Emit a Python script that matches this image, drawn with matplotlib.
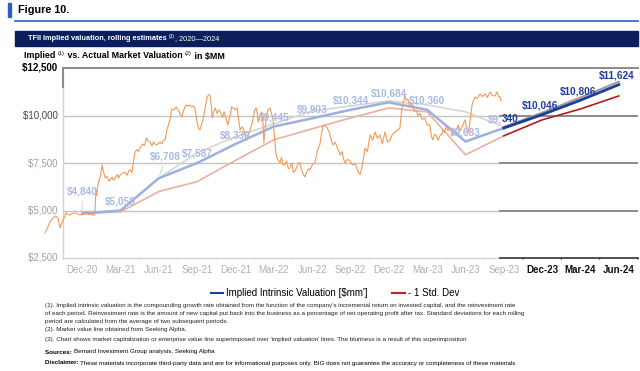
import matplotlib
matplotlib.use("Agg")
import matplotlib.pyplot as plt
from matplotlib.lines import Line2D
from matplotlib.patches import Rectangle

plt.rcParams['font.family'] = ['Liberation Sans', 'DejaVu Sans']

quarters = ['Dec-20', 'Mar-21', 'Jun-21', 'Sep-21', 'Dec-21', 'Mar-22', 'Jun-22',
            'Sep-22', 'Dec-22', 'Mar-23', 'Jun-23', 'Sep-23', 'Dec-23', 'Mar-24', 'Jun-24']

# historical (faded) rolling estimates, Dec-20 .. Sep-23
hist_implied = [4840, 5000, 6700, 7500, 8500, 9420, 9850, 10300, 10690, 10300, 8630, 9340]
hist_minus = [4840, 4930, 6000, 6520, 7640, 8720, 9300, 9870, 10400, 10190, 7930, 8930]
hist_plus = [4840, 5000, 6700, 8040, 8880, 9560, 10240, 10500, 10770, 10560, 10190, 9400]
hist_labels = ['$4,840', '$5,058', '$6,708', '$7,587', '$8,339', '$9,445', '$9,903',
               '$10,344', '$10,684', '$10,360', '$9,683']

# forward estimates, Sep-23 .. Jun-24
fwd_implied = [9340, 10046, 10806, 11624]
fwd_minus = [8930, 9770, 10346, 11030]
fwd_plus = [9400, 10150, 10950, 11780]
fwd_labels = ['$10,046', '$10,806', '$11,624']

# market value line (superimposed), position in quarters
mkt_q = [-0.97, -0.90, -0.84, -0.78, -0.71, -0.66, -0.63, -0.58, -0.54, -0.50, -0.45, -0.42,
         -0.36, -0.32, -0.25, -0.16, -0.10, -0.06, 0.0, 0.07, 0.12, 0.16, 0.20, 0.28, 0.33,
         0.35, 0.36, 0.38, 0.41, 0.44, 0.47, 0.50, 0.52, 0.56, 0.60, 0.65, 0.70, 0.73, 0.78,
         0.82, 0.86, 0.92, 0.95, 0.99, 1.05, 1.12, 1.17, 1.22, 1.25, 1.30, 1.33, 1.38, 1.43,
         1.47, 1.51, 1.58, 1.63, 1.67, 1.72, 1.77, 1.82, 1.86, 1.90, 1.95, 2.03, 2.08, 2.12,
         2.16, 2.21, 2.25, 2.29, 2.34, 2.40, 2.45, 2.50, 2.55, 2.60, 2.65, 2.71, 2.76, 2.81,
         2.86, 2.90, 2.94, 2.98, 3.02, 3.07, 3.11, 3.15, 3.20, 3.26, 3.30, 3.34, 3.37, 3.39,
         3.43, 3.47, 3.52, 3.56, 3.60, 3.66, 3.70, 3.73, 3.77, 3.80, 3.86, 3.90, 3.94, 4.00,
         4.04, 4.08, 4.12, 4.17, 4.22, 4.26, 4.30, 4.34, 4.38, 4.42, 4.46, 4.50, 4.54, 4.57,
         4.59, 4.64, 4.69, 4.72, 4.74, 4.77, 4.80, 4.85, 4.90, 4.94, 4.98, 5.02, 5.06, 5.10,
         5.16, 5.20, 5.24, 5.29, 5.33, 5.38, 5.42, 5.47, 5.51, 5.55, 5.60, 5.64, 5.68, 5.73,
         5.77, 5.81, 5.86, 5.90, 5.94, 6.00, 6.07, 6.12, 6.16, 6.20, 6.24, 6.28, 6.33, 6.39,
         6.45, 6.50, 6.54, 6.60, 6.66, 6.73, 6.78, 6.82, 6.86, 6.92, 6.99, 7.05, 7.12, 7.17,
         7.21, 7.25, 7.30, 7.34, 7.38, 7.44, 7.51, 7.58, 7.64, 7.70, 7.77, 7.83, 7.90, 7.96,
         8.03, 8.09, 8.16, 8.22, 8.29, 8.32, 8.34, 8.38, 8.42, 8.46, 8.50, 8.55, 8.61, 8.66,
         8.71, 8.76, 8.81, 8.87, 8.94, 9.00, 9.07, 9.11, 9.15, 9.19, 9.23, 9.28, 9.34, 9.38,
         9.41, 9.45, 9.49, 9.55, 9.60, 9.66, 9.73, 9.77, 9.81, 9.86, 9.91, 9.95, 9.99, 10.03,
         10.07, 10.10, 10.12, 10.15, 10.17, 10.21, 10.25, 10.30, 10.38, 10.44, 10.51, 10.57,
         10.64, 10.70, 10.77, 10.82, 10.86, 10.90, 10.93]
mkt_val = [3821, 4100, 4400, 4550, 4715, 4650, 4610, 4084, 4300, 4505, 4700, 4873,
           4780, 4768, 4850, 4873, 4800, 4768, 4790, 4820, 4950, 4780, 4820, 4760, 4768,
           5700, 6083, 5800, 6346, 6600, 6767, 7100, 7398, 7000, 6714, 6800, 6550, 6609, 6750,
           6600, 6714, 6900, 6700, 6872, 6950, 7030, 6850, 7100, 7135, 7000, 7503, 8082, 8200,
           8100, 8292, 8500, 8400, 8818, 8650, 8608, 8400, 8600, 8502, 8450, 8608, 8500, 8700,
           8713, 9239, 9500, 9765, 10343, 10300, 10450, 10291, 10100, 9923, 10300, 10554, 10500, 10554,
           10450, 10500, 10396, 9900, 9397, 9239, 9500, 9765, 10300, 10975, 11100, 11027, 10500, 9870,
           10200, 10396, 10100, 10300, 10186, 9900, 10200, 10028, 9700, 9502, 10000, 10450, 10396, 10300,
           10396, 9800, 9239, 9400, 9239, 8900, 8713, 9000, 9239, 9500, 9870, 10300, 10396, 10100,
           9660, 10000, 10186, 9500, 8555, 9200, 9923, 10300, 10396, 10100, 9765, 8800, 7924, 7700,
           7503, 7800, 7400, 7398, 7600, 7200, 7240, 7500, 7000, 7082, 7300, 7500, 7503, 7100,
           6900, 6767, 7000, 7200, 7135, 7400, 7503, 8000, 8300, 8450, 9000, 9449, 9500, 9344,
           9100, 8700, 8450, 8600, 8300, 7924, 8100, 7700, 7503, 7700, 7600, 7400, 7450, 7200,
           7000, 6900, 7300, 7800, 8292, 8100, 8976, 8700, 9134, 8800, 8976, 8500, 9134, 8600,
           8713, 9000, 9134, 9200, 9344, 10000, 10343, 10700, 11027, 10800, 10850, 10500, 10606, 10200,
           10291, 10000, 10133, 9800, 9870, 9500, 9502, 8900, 8713, 9000, 8976, 8700, 8976, 9000,
           9239, 9100, 9397, 9200, 9344, 9000, 9134, 9300, 9502, 9200, 9397, 9600, 9765, 9300,
           9134, 9400, 9765, 10200, 10554, 10800, 10975, 10900, 11132, 11000, 11132, 10950,
           11238, 11050, 11027, 11238, 11000, 10975, 10764]

y_ticks = [2500, 5000, 7500, 10000, 12500]

fig = plt.figure(figsize=(6.4, 3.71), dpi=100)
W, H = 640, 371
renderer = fig.canvas.get_renderer()


def run_text(x, y, parts, color='black'):
    # lay text pieces one after another, measuring each one
    for s, size, weight, dy in parts:
        t = fig.text(x / W, 1 - (y - dy) / H, s, fontsize=size, fontweight=weight,
                     color=color, va='center', zorder=3)
        x += t.get_window_extent(renderer).width


# ---- header
fig.patches.append(Rectangle((8 / W, 1 - 17 / H), 3 / W, 14 / H, transform=fig.transFigure,
                             color='#2f5fc4', zorder=2))
fig.text(18 / W, 1 - 10 / H, 'Figure 10.', fontsize=7.8, fontweight='bold', va='center')
fig.add_artist(Line2D([15 / W, 638 / W], [1 - 20.5 / H] * 2, color='#2f5fc4', lw=1.2))
fig.patches.append(Rectangle((15 / W, 1 - 46 / H), 623 / W, 15 / H, transform=fig.transFigure,
                             color='#0b1f5c', zorder=2))
run_text(28, 38.5, [('TFII Implied valuation, rolling estimates ', 5.3, 'bold', 0),
                    ('(3)', 3.6, 'normal', 2.2),
                    (', 2020\u20142024', 5.3, 'normal', 0)], color='white')
run_text(24, 56, [('Implied ', 6.4, 'bold', 0), ('(1)', 4.0, 'normal', 2.2),
                  (' vs. Actual Market Valuation ', 6.4, 'bold', 0), ('(2)', 4.0, 'normal', 2.2),
                  (' in \\$MM', 6.4, 'bold', 0)])

# ---- chart
ax = fig.add_axes([63 / W, 1 - 258 / H, 575 / W, 190 / H])
ax.set_xlim(-0.5, len(quarters) - 0.5)
ax.set_ylim(2500, 12500)
for s in ax.spines.values():
    s.set_visible(False)
ax.set_xticks([])
ax.set_yticks([])

split = 10.9
for v in y_ticks[1:4]:
    ax.plot([-0.5, split], [v, v], color='#c4c4c4', lw=1.0, zorder=1)
    ax.plot([split, 14.5], [v, v], color='#8a8a8a', lw=1.4, zorder=1)
ax.plot([-0.5, 14.5], [12500, 12500], color='#8a8a8a', lw=1.4, zorder=1, clip_on=False)
ax.plot([-0.5, split], [2500, 2500], color='#d2d2d2', lw=1.0, clip_on=False)
ax.plot([split, 14.5], [2500, 2500], color='#333333', lw=1.2, clip_on=False)
ax.plot([-0.5, -0.5], [2500, 12500], color='#d2d2d2', lw=1.0, clip_on=False)
ax.plot([-0.5, -0.5], [11500, 12500], color='#8a8a8a', lw=1.4, clip_on=False)
for i in range(len(quarters) + 1):
    b = i - 0.5
    c = '#333333' if b > split else '#cccccc'
    ax.annotate('', xy=(b, 2500), xytext=(0, -4), textcoords='offset pixels',
                arrowprops=dict(arrowstyle='-', color=c, lw=0.8), annotation_clip=False)

# y tick labels
for v in y_ticks:
    if v == 12500:
        col, fw = 'black', 'bold'
    elif v == 10000:
        col, fw = '#444444', 'normal'
    else:
        col, fw = '#a0a0a0', 'normal'
    ax.text(-0.5, v, '\\${:,}  '.format(v), ha='right', va='center', fontsize=7,
            color=col, fontweight=fw)

# x tick labels
for i, q in enumerate(quarters):
    if i >= 12:
        ax.annotate(q, xy=(i, 2500), xytext=(0, -12), textcoords='offset pixels',
                    ha='center', va='center', fontsize=7, fontweight='bold', color='#111111',
                    annotation_clip=False)
    else:
        ax.annotate(q, xy=(i, 2500), xytext=(0, -12), textcoords='offset pixels',
                    ha='center', va='center', fontsize=7, color='#b0b0b0',
                    annotation_clip=False)

# market value line
ax.plot(mkt_q, mkt_val, color='#f59a55', lw=0.8, zorder=4, clip_on=False)

# faded historical estimates
hq = list(range(len(hist_implied)))
ax.plot(hq, hist_plus, color='#d6d6d6', lw=1.2, zorder=3)
ax.plot(hq, hist_minus, color='#eab0a2', lw=1.2, zorder=3)
ax.plot(hq, hist_implied, color='#9db0e2', lw=1.8, zorder=3)

for i, lab in enumerate(hist_labels):
    dy = 22 if i in (0, 2) else 9
    dx = 6 if i == 2 else 0
    ax.annotate(lab.replace('$', '\\$'), xy=(i, hist_implied[i]), xytext=(dx, dy),
                textcoords='offset pixels', ha='center', va='center', fontsize=7.2,
                color='#a9b9e4', fontweight='bold', zorder=6)
    if i in (0, 2):
        ax.annotate('', xy=(i, hist_implied[i]), xytext=(dx * 0.8, dy - 7),
                    textcoords='offset pixels',
                    arrowprops=dict(arrowstyle='-', color='#cccccc', lw=0.6))

# forward estimates
fq = list(range(11, 11 + len(fwd_implied)))
ax.plot(fq, fwd_plus, color='#9a9a9a', lw=1.4, zorder=5)
ax.plot(fq, fwd_minus, color='#b01c1c', lw=1.2, zorder=5)
ax.plot(fq, fwd_implied, color='#1d3c9c', lw=2.0, zorder=6)

ax.annotate('\\$9,', xy=(11, fwd_implied[0]), xytext=(-2, 9), textcoords='offset pixels',
            ha='right', va='center', fontsize=7.2, color='#a9b9e4', fontweight='bold', zorder=7)
ax.annotate('340', xy=(11, fwd_implied[0]), xytext=(-2, 9), textcoords='offset pixels',
            ha='left', va='center', fontsize=7.2, color='#1d3c9c', fontweight='bold', zorder=7)
for i, lab in enumerate(fwd_labels):
    ax.annotate(lab.replace('$', '\\$'), xy=(12 + i, fwd_implied[i + 1]), xytext=(-2, 9),
                textcoords='offset pixels', ha='center', va='center', fontsize=7.2,
                color='#1d3c9c', fontweight='bold', zorder=7)

# ---- legend
handles = [Line2D([], [], color='#1d3c9c', lw=1.5), Line2D([], [], color='#c81e1e', lw=1.5)]
fig.legend(handles, ["Implied Intrinsic Valuation [\\$mm']", '- 1 Std. Dev'], loc='center',
           bbox_to_anchor=(335 / W, 1 - 293 / H), ncol=2, frameon=False, fontsize=7,
           handlelength=1.3, handletextpad=0.3, columnspacing=2.5)

# ---- footnotes
fs = 4.5
notes = [
    (305, "(1). Implied intrinsic valuation is the compounding growth rate obtained from the function of the company's incremental return on invested capital, and the reinvestment rate"),
    (313, "of each period. Reinvestment rate is the amount of new capital put back into the business as a percentage of net operating profit after tax. Standard deviations for each rolling"),
    (321, "period are calculated from the average of two subsequent periods."),
    (329, "(2). Market value line obtained from Seeking Alpha."),
    (340, "(3). Chart shows market capitalization or enterprise value line superimposed over 'implied valuation' lines. The bluriness is a result of this superimposition"),
]
for y, s in notes:
    fig.text(45 / W, 1 - y / H, s, fontsize=fs, va='center', color='#222222')
run_text(45, 352, [('Sources: ', fs, 'bold', 0),
                   ('Bernard Investment Group analysis, Seeking Alpha', fs, 'normal', 0)])
run_text(45, 363, [('Disclaimer: ', fs, 'bold', 0),
                   ('These materials incorporate third-party data and are for informational '
                    'purposes only. BIG does not guarantee the accuracy or completeness of '
                    'these materials', fs, 'normal', 0)])

fig.savefig('out.png', dpi=100)
